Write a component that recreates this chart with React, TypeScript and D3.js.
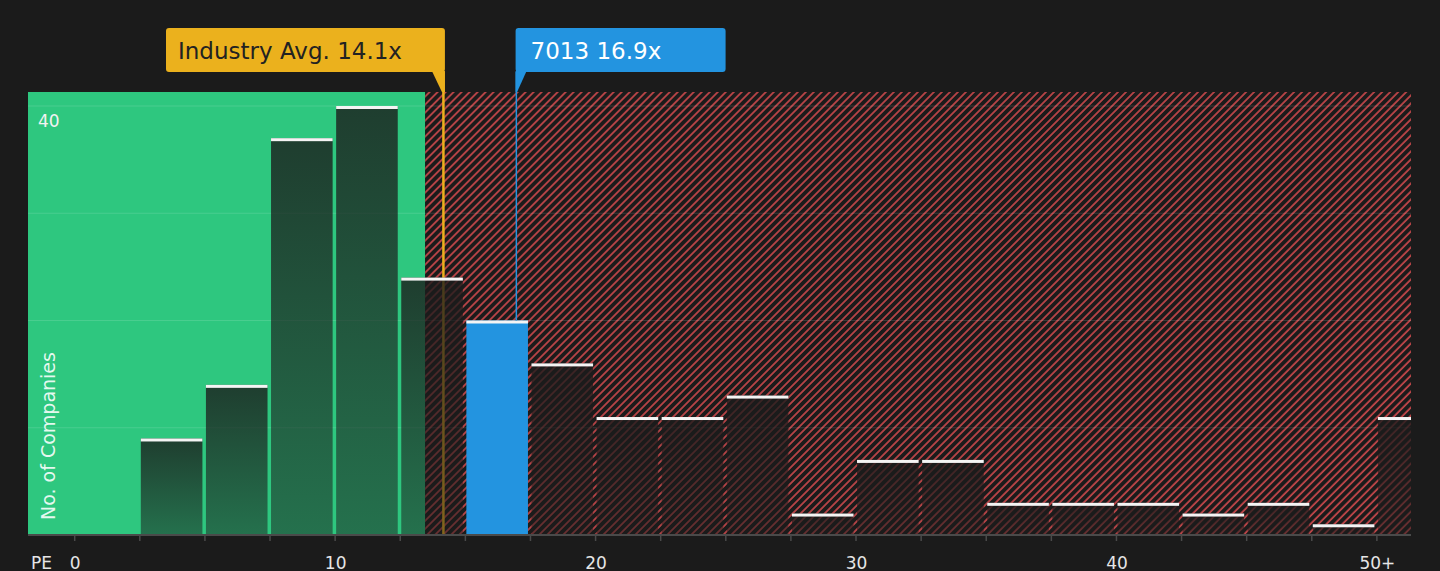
import { useRef, useEffect } from "react";
import * as d3 from "d3";

// PE histogram, bins of 2.5x; the last bin is "50+"
const binWidth = 2.5;
const binStarts = [
  0, 2.5, 5, 7.5, 10, 12.5, 15, 17.5, 20, 22.5, 25, 27.5, 30, 32.5, 35, 37.5,
  40, 42.5, 45, 47.5, 50,
];
const counts = [
  0, 9, 14, 37, 40, 24, 20, 16, 11, 11, 13, 2, 7, 7, 3, 3, 3, 2, 3, 1, 11,
];
const xTickValues = [0, 10, 20, 30, 40, 50];
const xTickLabels = ["0", "10", "20", "30", "40", "50+"];
const yGridValues = [10, 20, 30, 40];
const yLabelValues = [40];

const industryAvg = 14.1;
const companyPE = 16.9;
const companyName = "7013";
const fairThreshold = 13.4;

const W = 1440;
const H = 571;
const FONT = "'DejaVu Sans', Verdana, sans-serif";

export default function App() {
  const ref = useRef<SVGSVGElement>(null);

  useEffect(() => {
    if (!ref.current) return;
    const svg = d3.select(ref.current);
    svg.selectAll("*").remove();

    const plot = { left: 28, right: 1411, top: 92, bottom: 535 };

    const x = d3.scaleLinear().domain([0, 50]).range([74.7, 1376.9]);
    const y = d3.scaleLinear().domain([0, 40]).range([plot.bottom, 106]);
    // marker lines sit a little right of the bin grid
    const xm = (v: number) => x(v) + 1.5;

    const defs = svg.append("defs");

    // red hatch
    const hatch = defs
      .append("pattern")
      .attr("id", "hatch")
      .attr("patternUnits", "userSpaceOnUse")
      .attr("width", 5.66)
      .attr("height", 5.66)
      .attr("patternTransform", "rotate(45)");
    hatch
      .append("rect")
      .attr("width", 5.66)
      .attr("height", 5.66)
      .attr("fill", "#1b1b1b");
    hatch
      .append("line")
      .attr("x1", 1)
      .attr("x2", 1)
      .attr("y1", 0)
      .attr("y2", 5.66)
      .attr("stroke", "#d04a4d")
      .attr("stroke-width", 1.6);

    // bar shading
    const grad = defs
      .append("linearGradient")
      .attr("id", "barGrad")
      .attr("x1", 0)
      .attr("x2", 0)
      .attr("y1", 0)
      .attr("y2", 1);
    grad
      .append("stop")
      .attr("offset", "0%")
      .attr("stop-color", "#1b1b1b")
      .attr("stop-opacity", 0.8);
    grad
      .append("stop")
      .attr("offset", "100%")
      .attr("stop-color", "#1b1b1b")
      .attr("stop-opacity", 0.5);

    defs
      .append("clipPath")
      .attr("id", "plotClip")
      .append("rect")
      .attr("x", plot.left)
      .attr("y", plot.top - 30)
      .attr("width", plot.right - plot.left)
      .attr("height", plot.bottom - plot.top + 30);

    svg
      .append("rect")
      .attr("width", W)
      .attr("height", H)
      .attr("fill", "#1b1b1b");

    // regions
    const xFair = xm(fairThreshold);
    svg
      .append("rect")
      .attr("x", plot.left)
      .attr("y", plot.top)
      .attr("width", xFair - plot.left)
      .attr("height", plot.bottom - plot.top)
      .attr("fill", "#2ec77f");
    svg
      .append("rect")
      .attr("x", xFair)
      .attr("y", plot.top)
      .attr("width", plot.right - xFair)
      .attr("height", plot.bottom - plot.top)
      .attr("fill", "url(#hatch)");

    // gridlines
    svg
      .append("g")
      .selectAll("line")
      .data(yGridValues)
      .join("line")
      .attr("x1", plot.left)
      .attr("x2", plot.right)
      .attr("y1", (d) => y(d))
      .attr("y2", (d) => y(d))
      .attr("stroke", "rgba(255,255,255,0.13)")
      .attr("stroke-width", 1);

    // industry average line (under the bars)
    const xAvg = xm(industryAvg);
    svg
      .append("line")
      .attr("x1", xAvg)
      .attr("x2", xAvg)
      .attr("y1", 72)
      .attr("y2", plot.bottom)
      .attr("stroke", "#ebb11d")
      .attr("stroke-width", 2.5);

    // bars
    const bins = binStarts.map((s, i) => ({
      start: s,
      count: counts[i],
      company: companyPE >= s && companyPE < s + binWidth,
    }));
    const bw = x(binWidth) - x(0);
    const gBars = svg.append("g").attr("clip-path", "url(#plotClip)");
    const visible = bins.filter((d) => d.count > 0);
    gBars
      .selectAll("rect.bar")
      .data(visible)
      .join("rect")
      .attr("class", "bar")
      .attr("x", (d) => x(d.start) + 1)
      .attr("y", (d) => y(d.count))
      .attr("width", bw - 3.5)
      .attr("height", (d) => plot.bottom - y(d.count))
      .attr("fill", (d) => (d.company ? "#2394e0" : "url(#barGrad)"));
    gBars
      .selectAll("rect.cap")
      .data(visible)
      .join("rect")
      .attr("class", "cap")
      .attr("x", (d) => x(d.start) + 1)
      .attr("y", (d) => y(d.count))
      .attr("width", bw - 3.5)
      .attr("height", 3)
      .attr("fill", "#f4f4f4");

    // company line
    const xCo = xm(companyPE);
    const coBin = bins.find((d) => d.company);
    svg
      .append("line")
      .attr("x1", xCo)
      .attr("x2", xCo)
      .attr("y1", 72)
      .attr("y2", coBin ? y(coBin.count) : plot.bottom)
      .attr("stroke", "#2394e0")
      .attr("stroke-width", 1.5);

    // x axis
    svg
      .append("line")
      .attr("x1", plot.left)
      .attr("x2", plot.right)
      .attr("y1", plot.bottom)
      .attr("y2", plot.bottom)
      .attr("stroke", "#4a4a4a")
      .attr("stroke-width", 2);
    svg
      .append("g")
      .selectAll("line")
      .data(binStarts)
      .join("line")
      .attr("x1", (d) => x(d))
      .attr("x2", (d) => x(d))
      .attr("y1", plot.bottom)
      .attr("y2", plot.bottom + 6)
      .attr("stroke", "#4a4a4a")
      .attr("stroke-width", 1.5);
    svg
      .append("g")
      .selectAll("text")
      .data(xTickValues)
      .join("text")
      .attr("x", (d) => x(d) + 0.5)
      .attr("y", 569)
      .attr("text-anchor", "middle")
      .attr("fill", "#e6e6e6")
      .attr("font-family", FONT)
      .attr("font-size", 17)
      .text((_d, i) => xTickLabels[i]);
    svg
      .append("text")
      .attr("x", 31)
      .attr("y", 569)
      .attr("fill", "#e6e6e6")
      .attr("font-family", FONT)
      .attr("font-size", 17)
      .text("PE");

    // y labels
    svg
      .append("g")
      .selectAll("text")
      .data(yLabelValues)
      .join("text")
      .attr("x", 38)
      .attr("y", (d) => y(d) + 21)
      .attr("fill", "#f2f2f2")
      .attr("font-family", FONT)
      .attr("font-size", 17)
      .text((d) => String(d));
    svg
      .append("text")
      .attr("transform", "translate(55,520) rotate(-90)")
      .attr("fill", "rgba(255,255,255,0.88)")
      .attr("font-family", FONT)
      .attr("font-size", 19)
      .text("No. of Companies");

    // industry avg callout
    const avgBox = { x: 166, y: 28, w: xAvg + 1.5 - 166, h: 44 };
    svg
      .append("rect")
      .attr("x", avgBox.x)
      .attr("y", avgBox.y)
      .attr("width", avgBox.w)
      .attr("height", avgBox.h)
      .attr("rx", 3)
      .attr("fill", "#ebb11d");
    svg
      .append("path")
      .attr(
        "d",
        `M${avgBox.x + avgBox.w - 13},${avgBox.y + avgBox.h - 1} L${avgBox.x + avgBox.w},${avgBox.y + avgBox.h - 1} L${avgBox.x + avgBox.w},${plot.top} L${avgBox.x + avgBox.w - 3},${plot.top} Z`,
      )
      .attr("fill", "#ebb11d");
    svg
      .append("text")
      .attr("x", avgBox.x + 12)
      .attr("y", 59)
      .attr("fill", "#222")
      .attr("font-family", FONT)
      .attr("font-size", 23)
      .text(`Industry Avg. ${industryAvg}x`);

    // company callout
    const coBox = { x: xCo - 0.75, y: 28, w: 210, h: 44 };
    svg
      .append("rect")
      .attr("x", coBox.x)
      .attr("y", coBox.y)
      .attr("width", coBox.w)
      .attr("height", coBox.h)
      .attr("rx", 3)
      .attr("fill", "#2394e0");
    svg
      .append("path")
      .attr(
        "d",
        `M${coBox.x},${coBox.y + coBox.h - 1} L${coBox.x + 11},${coBox.y + coBox.h - 1} L${coBox.x + 1.5},${plot.top} L${coBox.x},${plot.top} Z`,
      )
      .attr("fill", "#2394e0");
    svg
      .append("text")
      .attr("x", coBox.x + 15)
      .attr("y", 59)
      .attr("fill", "#ffffff")
      .attr("font-family", FONT)
      .attr("font-size", 23)
      .text(`${companyName} ${companyPE}x`);
  }, []);

  return (
    <svg
      ref={ref}
      width={W}
      height={H}
      style={{ position: "absolute", left: 0, top: 0, display: "block" }}
    />
  );
}
